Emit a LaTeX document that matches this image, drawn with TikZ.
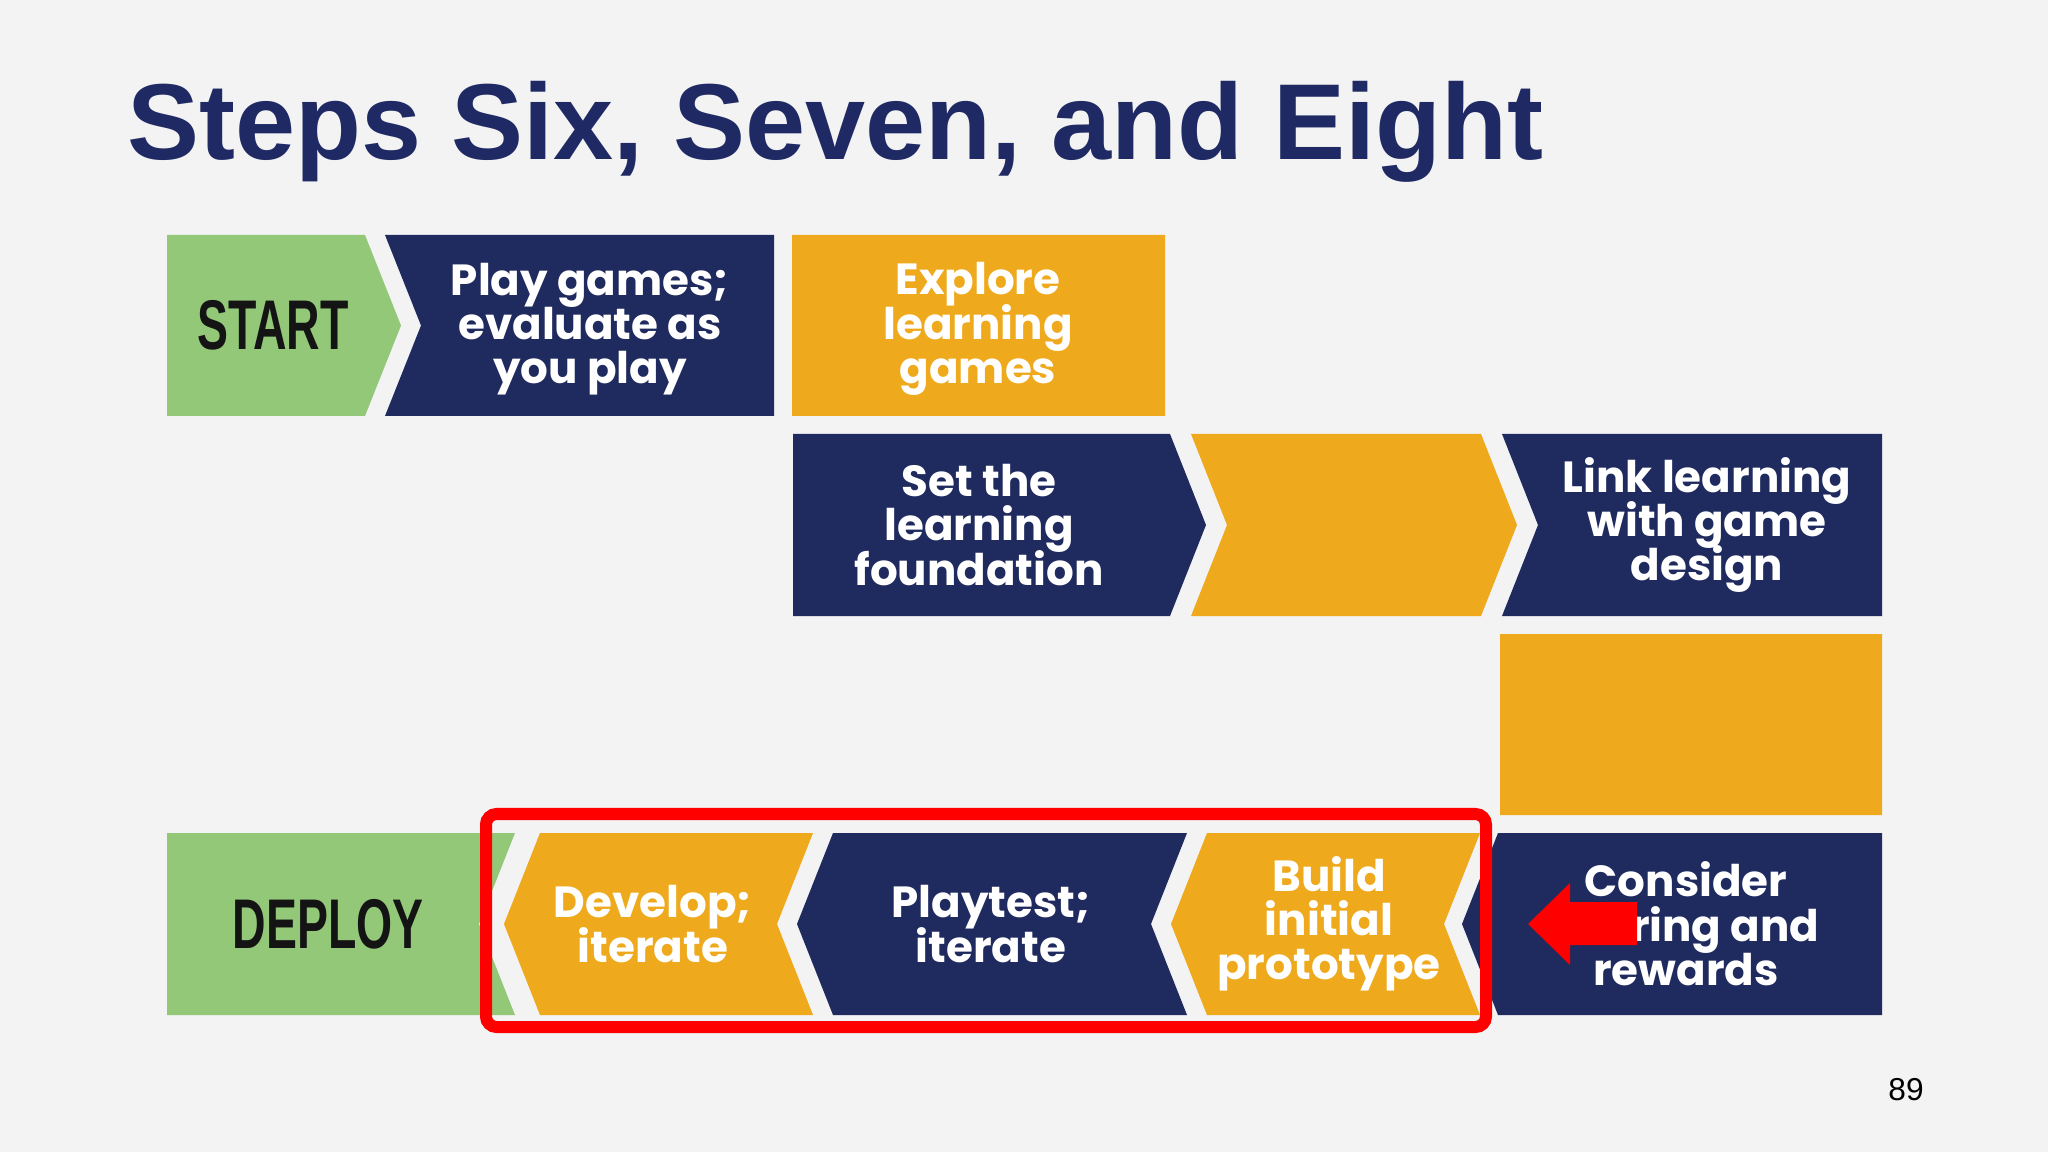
\documentclass[tikz,border=0pt]{standalone}
\usepackage{fontspec}
\usepackage{tikz}
\newfontfamily\titlefont{Liberation Sans}
\newfontfamily\boxfont{Poppins}
\definecolor{slidebg}{HTML}{F3F3F3}
\definecolor{titlenavy}{HTML}{1F2A64}
\definecolor{stepnavy}{HTML}{1F2A5E}
\definecolor{steporange}{HTML}{EEA91D}
\definecolor{stepgreen}{HTML}{93C878}
\definecolor{markred}{HTML}{FF0000}
\tikzset{
  steptext/.style={text=white, align=center, inner sep=0pt,
    font=\boxfont\bfseries\fontsize{12.4}{12.6}\selectfont\setlength{\lineskiplimit}{-20pt}},
  endtext/.style={text=black!92, inner sep=0pt,
    font=\titlefont\bfseries\fontsize{20}{20}\selectfont},
}

\begin{document}
\begin{tikzpicture}[x=0.01cm, y=-0.01cm]
  \fill[slidebg] (0,0) rectangle (2048,1152);
  \node[anchor=base west, inner sep=0pt, text=titlenavy,
    font=\titlefont\bfseries\fontsize{30.7}{32}\selectfont] (title) at (127,160) {Steps Six, Seven, and Eight};
  % tiles: left x / left offset / right x / right offset / top / bottom / colour
  \foreach \xl/\ln/\xr/\rn/\yt/\yb/\col in {
      167/0/365/36/235/416/stepgreen, 385/36/774/0/235/416/stepnavy, 792/0/1165/0/235/416/steporange,
      793/0/1170/36/434/616/stepnavy, 1191/36/1481/36/434/616/steporange, 1502/36/1882/0/434/616/stepnavy,
      1500/0/1882/0/634/815/steporange,
      167/0/515/-36/833/1015/stepgreen, 540/-36/813/-36/833/1015/steporange, 833/-36/1187/-36/833/1015/stepnavy,
      1207/-36/1480/-36/833/1015/steporange, 1498/-36/1882/0/833/1015/stepnavy}
    \fill[\col] (\xl,\yt) -- (\xr,\yt) -- ({\xr+\rn},{(\yt+\yb)/2}) -- (\xr,\yb)
      -- (\xl,\yb) -- ({\xl+\ln},{(\yt+\yb)/2}) -- cycle;
  % texts
  \node[endtext] (start) at (273,325) {\scalebox{0.66}[1]{START}};
  \node[steptext] (play) at (590,329) {Play games;\\evaluate as\\you play};
  \node[steptext] (explore) at (978,329) {Explore\\learning\\games};
  \node[steptext] (found) at (979,525) {Set the\\learning\\foundation};
  \node[steptext] (link) at (1707,525) {Link learning\\with game\\design};
  \node[endtext] (deploy) at (328,924) {\scalebox{0.66}[1]{DEPLOY}};
  \node[steptext] (develop) at (653,924) {Develop;\\iterate};
  \node[steptext] (playtest) at (991,924) {Playtest;\\iterate};
  \node[steptext] (build) at (1329,924) {Build\\initial\\prototype};
  \node[steptext] (consider) at (1686,924) {Consider\\scoring and\\rewards};
  % highlight
  \draw[markred, line width=0.12cm, rounded corners=3pt] (486,814) rectangle (1486,1027);
  \fill[markred] (1637,902) -- (1570,902) -- (1570,883) -- (1528,924) -- (1570,965)
    -- (1570,945) -- (1637,945) -- cycle;
  \node[anchor=base, inner sep=0pt, font=\titlefont\fontsize{9}{10}\selectfont] (page) at (1906,1100) {89};
\end{tikzpicture}
\end{document}
